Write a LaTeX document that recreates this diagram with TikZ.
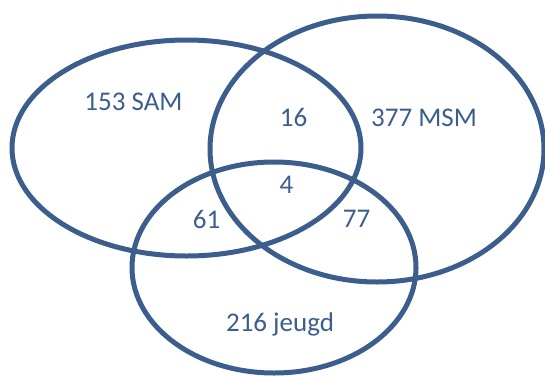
\documentclass[tikz,border=0pt]{standalone}
\usepackage{fontspec}
\setmainfont{Carlito}
\usetikzlibrary{shapes.geometric}
\definecolor{vennblue}{RGB}{59,94,141}
\begin{document}
\begin{tikzpicture}[x=1pt,y=-1pt,
  vennset/.style={ellipse, draw=vennblue, line width=5pt, inner sep=0pt, outer sep=0pt},
  count/.style={text=vennblue, anchor=base, inner sep=0pt, font=\fontsize{27}{32}\selectfont}]
  \useasboundingbox (0,0) rectangle (545,375);
  % the three groups
  \node[vennset, minimum width=349pt, minimum height=216pt] (sam)   at (186.5,148) {};
  \node[vennset, minimum width=334pt, minimum height=266pt] (msm)   at (377,149)   {};
  \node[vennset, minimum width=284pt, minimum height=211pt] (jeugd) at (274,267.5) {};
  % counts per region
  \node[count] (lsam)   at (133.5,110) {153 SAM};
  \node[count] (lmsm)   at (424,126)   {377 MSM};
  \node[count] (lsm)    at (293.5,126) {16};
  \node[count] (lall)   at (286.5,193) {4};
  \node[count] (lsj)    at (206.5,228) {61};
  \node[count] (lmj)    at (356.5,227) {77};
  \node[count] (ljeugd) at (280,331)   {216 jeugd};
\end{tikzpicture}
\end{document}
